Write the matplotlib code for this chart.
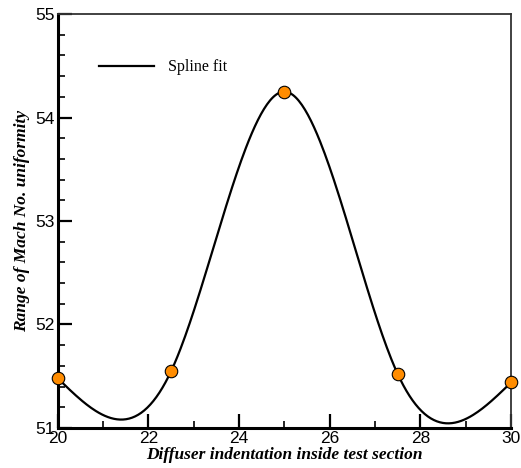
import numpy as np
import matplotlib.pyplot as plt
from matplotlib.ticker import MultipleLocator

# Datos
indentation = [20.0, 22.5, 25.0, 27.5, 30.0]
mach_range = [51.48, 51.55, 54.25, 51.52, 51.44]


def natural_spline(x, y, n=300):
    x = np.asarray(x, float)
    y = np.asarray(y, float)
    k = len(x)
    h = np.diff(x)
    A = np.zeros((k, k))
    b = np.zeros(k)
    A[0, 0] = 1
    A[-1, -1] = 1
    for i in range(1, k - 1):
        A[i, i - 1] = h[i - 1]
        A[i, i] = 2 * (h[i - 1] + h[i])
        A[i, i + 1] = h[i]
        b[i] = 3 * ((y[i + 1] - y[i]) / h[i] - (y[i] - y[i - 1]) / h[i - 1])
    c = np.linalg.solve(A, b)
    xs = np.linspace(x[0], x[-1], n)
    ys = np.empty_like(xs)
    for j, xv in enumerate(xs):
        i = min(np.searchsorted(x, xv, side='right') - 1, k - 2)
        dx = xv - x[i]
        bi = (y[i + 1] - y[i]) / h[i] - h[i] * (2 * c[i] + c[i + 1]) / 3
        di = (c[i + 1] - c[i]) / (3 * h[i])
        ys[j] = y[i] + bi * dx + c[i] * dx**2 + di * dx**3
    return xs, ys


fig = plt.figure(figsize=(5.21, 4.68), dpi=100)
ax = fig.add_axes([0.111, 0.0855, 0.870, 0.8845])

xs, ys = natural_spline(indentation, mach_range)
ax.plot(xs, ys, color='black', lw=1.6, label='Spline fit', zorder=2)
ax.plot(indentation, mach_range, 'o', ms=9, mfc='#ff8c00', mec='black',
        mew=0.8, zorder=3, clip_on=False)

ax.set_xlim(20, 30)
ax.set_ylim(51, 55)
ax.xaxis.set_major_locator(MultipleLocator(2))
ax.xaxis.set_minor_locator(MultipleLocator(1))
ax.yaxis.set_major_locator(MultipleLocator(1))
ax.yaxis.set_minor_locator(MultipleLocator(0.2))
ax.tick_params(which='major', direction='in', length=10, width=1.6,
               labelsize=12.5, top=False, right=False)
ax.tick_params(which='minor', direction='in', length=5, width=1.2,
               top=False, right=False)
for lab in ax.get_xticklabels() + ax.get_yticklabels():
    lab.set_fontfamily('Liberation Sans')
ax.tick_params(axis='x', pad=2)
ax.tick_params(axis='y', pad=2)

ax.spines['left'].set_linewidth(2.2)
ax.spines['bottom'].set_linewidth(2.2)
ax.spines['top'].set_linewidth(1.3)
ax.spines['right'].set_linewidth(1.3)
ax.spines['top'].set_color('#333333')
ax.spines['right'].set_color('#333333')

lbl = dict(family='Liberation Serif', style='italic', weight='bold', size=12.5)
ax.set_xlabel('Diffuser indentation inside test section', labelpad=1, **lbl)
ax.set_ylabel('Range of Mach No. uniformity', labelpad=4, **lbl)

ax.legend(loc='upper left', bbox_to_anchor=(0.06, 0.925), frameon=False,
          handlelength=3.4, handletextpad=0.9,
          prop=dict(family='Liberation Serif', size=11.5))

fig.savefig('out.png', dpi=100)
